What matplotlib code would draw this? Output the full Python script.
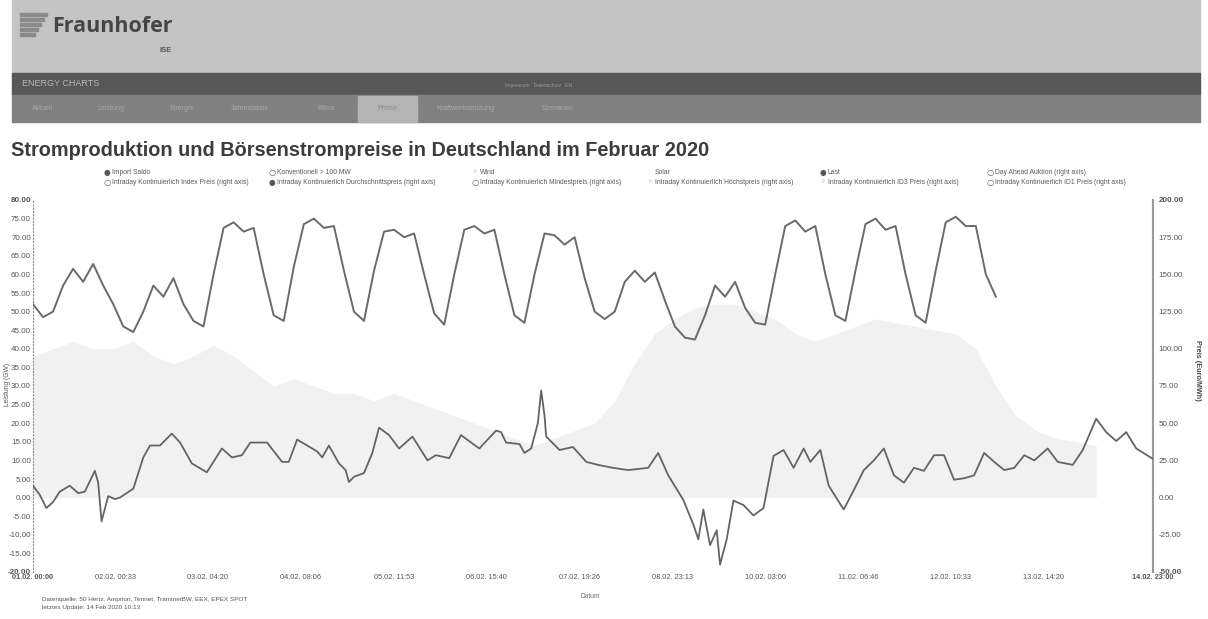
import matplotlib
matplotlib.use("Agg")
import matplotlib.pyplot as plt
from matplotlib.patches import Rectangle
import numpy as np
import pandas as pd

W, H = 1208, 619

start = pd.Timestamp("2020-02-01 00:00")
end = pd.Timestamp("2020-02-14 23:00")

# Last (GW), every 3 hours from 01.02. 00:00
load_gw = [52, 48.5, 50, 57, 61.5, 58, 62.8, 57,
           52, 46, 44.5, 50, 57, 54, 59, 52,
           47.5, 46, 60, 72.5, 74, 71.5, 72.5, 60,
           49, 47.5, 62, 73.5, 75, 72.5, 73, 61,
           50, 47.5, 61, 71.5, 72, 70, 71, 60,
           49.5, 46.5, 60, 72, 73, 71, 72, 60,
           49, 47, 60, 71, 70.5, 68, 70, 59,
           50, 48, 50, 58, 61, 58, 60.5, 53,
           46, 43, 42.5, 49, 57, 54, 58, 51,
           47, 46.5, 60, 73, 74.5, 71.5, 73, 60,
           49, 47.5, 61, 73.5, 75, 72, 73, 60,
           49, 47, 61, 74, 75.5, 73, 73, 60,
           54]

# Wind (GW), every 6 hours from 01.02. 00:00
wind_gw = [38, 40, 42, 40,
           40, 42, 38, 36,
           38, 41, 38, 34,
           30, 32, 30, 28,
           28, 26, 28, 26,
           24, 22, 20, 18,
           16, 14, 16, 18,
           20, 26, 36, 44,
           48, 51, 52, 52,
           50, 48, 44, 42,
           44, 46, 48, 47,
           46, 45, 44, 40,
           30, 22, 18, 16,
           15, 14]

# Day Ahead Auktion (Euro/MWh): hours after 01.02. 00:00 and price
price_hours = [0, 2, 4, 6, 8, 11, 13.5, 15.5, 18.5, 19.5, 20.5, 22.5, 24.5, 26, 30,
               33, 35, 38, 41.5, 44, 47.5, 52, 56.5, 59.5, 62.5, 65, 70, 74.5, 76.5,
               79, 85, 86.5, 88.5, 91.5, 93.5, 94.5, 96, 99, 101.5, 103.5, 106.5,
               109.5, 113.5, 118, 120.5, 124.5, 128, 133.5, 138.5, 140, 141.5, 145.5,
               147, 149, 151, 152, 153, 153.5, 157.5, 161.5, 165.5, 169, 173.5, 178,
               184, 187, 190, 194.5, 197.5, 199, 200.5, 202.5, 204.5, 205.5, 207.5,
               209.5, 212.5, 215.5, 218.5, 221.5, 224.5, 227.5, 230.5, 232.5, 235.5,
               238, 242.5, 245.5, 248.5, 251.5, 254.5, 257.5, 260.5, 263.5, 266.5,
               269.5, 272.5, 275.5, 278.5, 281.5, 284.5, 287.5, 290.5, 293.5, 296.5,
               299.5, 303.5, 306.5, 311, 314, 318, 321, 324, 327, 330, 335]
price_eur = [8, 2, -7, -3, 4, 8, 3, 4, 18, 10, -16, 1, -1, 0, 6,
             27, 35, 35, 43, 37, 23, 17, 33, 27, 28.5, 37, 37, 24, 24,
             39, 31, 27, 35, 23, 18.5, 10.5, 14, 16.5, 30, 47, 42,
             33, 41, 25, 28.5, 26.5, 42, 33, 45, 44, 37, 36,
             30, 33, 50, 72, 55, 41, 32, 34, 24, 22, 20, 18.5,
             20, 30, 15, -1.5, -18, -28, -8, -32, -22, -45, -28,
             -2, -5, -12, -7, 28, 32, 20, 33, 24, 32,
             8, -8, 5, 18.5, 25, 33, 15, 10, 20, 18,
             28.5, 28.5, 12, 13, 15, 30, 24, 18.5, 20, 28.5,
             25, 33, 24, 22, 32, 53, 44, 38, 44, 33, 26]

xtick_labels = ["02.02. 00:33", "03.02. 04:20", "04.02. 08:06", "05.02. 11:53",
                "06.02. 15:40", "07.02. 19:26", "08.02. 23:13", "10.02. 03:00",
                "11.02. 06:46", "12.02. 10:33", "13.02. 14:20"]

legend_row1 = [("Import Saldo", "full"), ("Konventionell > 100 MW", "open"),
               ("Wind", "faint"), ("Solar", "none"), ("Last", "full"),
               ("Day Ahead Auktion (right axis)", "open")]
legend_row2 = [("Intraday Kontinuierlich Index Preis (right axis)", "open"),
               ("Intraday Kontinuierlich Durchschnittspreis (right axis)", "full"),
               ("Intraday Kontinuierlich Mindestpreis (right axis)", "open"),
               ("Intraday Kontinuierlich Höchstpreis (right axis)", "faint"),
               ("Intraday Kontinuierlich ID3 Preis (right axis)", "faint"),
               ("Intraday Kontinuierlich ID1 Preis (right axis)", "open")]
nav_tabs = ["Aktuell", "Leistung", "Energie", "Jahresbasis", "Klima", "Preise",
            "Kraftwerksleistung", "Szenarien"]


def fx(x):
    return x / W


def fy(y):
    return 1 - y / H


plt.rcParams['font.family'] = ['Liberation Sans', 'DejaVu Sans']

fig = plt.figure(figsize=(W / 100, H / 100), dpi=100)

# header of the web page
fig.patches.append(Rectangle((fx(12), fy(73)), fx(1188), 73 / H, transform=fig.transFigure,
                             color='#c4c4c4', zorder=0))
fig.patches.append(Rectangle((fx(12), fy(95)), fx(1188), 22 / H, transform=fig.transFigure,
                             color='#575757', zorder=0))
fig.patches.append(Rectangle((fx(12), fy(122)), fx(1188), 27 / H, transform=fig.transFigure,
                             color='#808080', zorder=0))
fig.patches.append(Rectangle((fx(358), fy(122)), fx(59), 26 / H, transform=fig.transFigure,
                             color='#b4b4b4', zorder=1))
for i in range(5):
    fig.patches.append(Rectangle((fx(20), fy(16 + i * 5)), fx(27 - i * 3), 3 / H,
                                 transform=fig.transFigure, color='#8a8a8a', zorder=1))
fig.text(fx(52), fy(27), "Fraunhofer", fontsize=15.5, fontweight='bold', color='#464646',
         family='Open Sans', va='center')
fig.text(fx(160), fy(50), "ISE", fontsize=5.5, fontweight='bold', color='#555555', va='center')
fig.text(fx(22), fy(84), "ENERGY CHARTS", fontsize=6.5, color='#b8b8b8', va='center')
fig.text(fx(505), fy(86), "Impressum   Datenschutz   EN", fontsize=3.5, color='#9a9a9a',
         va='center')
tab_x = [43, 111, 182, 250, 326, 387, 465, 558]
for name, x in zip(nav_tabs, tab_x):
    fig.text(fx(x), fy(108), name, fontsize=5, ha='center', va='center',
             color='#8c8c8c' if name == "Preise" else '#a8a8a8')

# title
fig.text(fx(11), fy(150), "Stromproduktion und Börsenstrompreise in Deutschland im Februar 2020",
         fontsize=14.3, fontweight='bold', color='#3c3c3c', va='center')

# legend
col_x = [107, 272, 475, 650, 823, 990]
for row, yy in [(legend_row1, 172), (legend_row2, 182)]:
    for (name, kind), x in zip(row, col_x):
        if kind == "full":
            fig.text(fx(x), fy(yy), "●", fontsize=5.5, color='#555555', ha='center', va='center',
                     family='DejaVu Sans')
        elif kind == "open":
            fig.text(fx(x), fy(yy), "○", fontsize=6, color='#555555', ha='center', va='center',
                     family='DejaVu Sans')
        elif kind == "faint":
            fig.text(fx(x), fy(yy), "◦", fontsize=5.5, color='#999999', ha='center', va='center',
                     family='DejaVu Sans')
        fig.text(fx(x + 5), fy(yy), name, fontsize=4.9, color='#5a5a5a', va='center')

# chart
ax = fig.add_axes([fx(33), fy(572), (1153 - 33) / W, (572 - 200) / H])
ax2 = ax.twinx()

load_t = start + pd.to_timedelta(np.arange(len(load_gw)) * 3, unit='h')
wind_t = start + pd.to_timedelta(np.arange(len(wind_gw)) * 6, unit='h')
price_t = start + pd.to_timedelta(price_hours, unit='h')

ax.fill_between(wind_t, 0, wind_gw, color='#f1f1f1', lw=0, zorder=1)
ax.plot(load_t, load_gw, color='#6a6a6a', lw=1.4, zorder=3)
ax2.plot(price_t, price_eur, color='#646464', lw=1.3, zorder=3)

ax.set_xlim(start, end)
ax.set_ylim(-20, 80)
ax2.set_ylim(-50, 200)

left_vals = list(range(-20, 81, 5))
right_vals = list(range(-50, 201, 25))
ax.set_yticks(left_vals)
ax.set_yticklabels([f"{v:.2f}" for v in left_vals], fontsize=5.8, color='#555555')
ax2.set_yticks(right_vals)
ax2.set_yticklabels([f"{v:.2f}" for v in right_vals], fontsize=5.8, color='#555555')
for lab in [ax.get_yticklabels()[0], ax.get_yticklabels()[-1],
            ax2.get_yticklabels()[0], ax2.get_yticklabels()[-1]]:
    lab.set_fontweight('bold')

tick_times = [start] + [pd.Timestamp("2020-%s-%s %s" % (s[3:5], s[0:2], s[7:])) for s in xtick_labels] + [end]
ax.set_xticks(tick_times)
ax.set_xticklabels(["01.02. 00:00"] + xtick_labels + ["14.02. 23:00"], fontsize=5.3, color='#555555')
ax.get_xticklabels()[0].set_fontweight('bold')
ax.get_xticklabels()[-1].set_fontweight('bold')

ax.tick_params(axis='y', length=0, pad=1.5)
ax.tick_params(axis='x', length=0, pad=1.5)
ax2.tick_params(axis='y', length=0, pad=4)

for a in (ax, ax2):
    a.spines['top'].set_visible(False)
    a.spines['bottom'].set_visible(False)
    a.patch.set_visible(False)
ax2.spines['left'].set_visible(False)
ax.spines['right'].set_visible(False)
ax.spines['left'].set_linestyle((0, (1, 2)))
ax.spines['left'].set_color('#888888')
ax2.spines['right'].set_color('#9a9a9a')
ax2.spines['right'].set_linewidth(1.5)

fig.text(fx(8), fy(385), "Leistung (GW)", fontsize=4.8, rotation=90, color='#555555',
         ha='center', va='center')
fig.text(fx(1197), fy(370), "Preis (Euro/MWh)", fontsize=5.2, rotation=270, color='#444444',
         ha='center', va='center', fontweight='bold')
fig.text(fx(590), fy(596), "Datum", fontsize=4.8, color='#666666', ha='center', va='center')
fig.text(fx(42), fy(599), "Datenquelle: 50 Hertz, Amprion, Tennet, TransnetBW, EEX, EPEX SPOT",
         fontsize=4.6, color='#555555', va='center')
fig.text(fx(42), fy(607), "letztes Update: 14 Feb 2020 10:13", fontsize=4.6, color='#555555',
         va='center')

fig.savefig("out.png", dpi=100)
